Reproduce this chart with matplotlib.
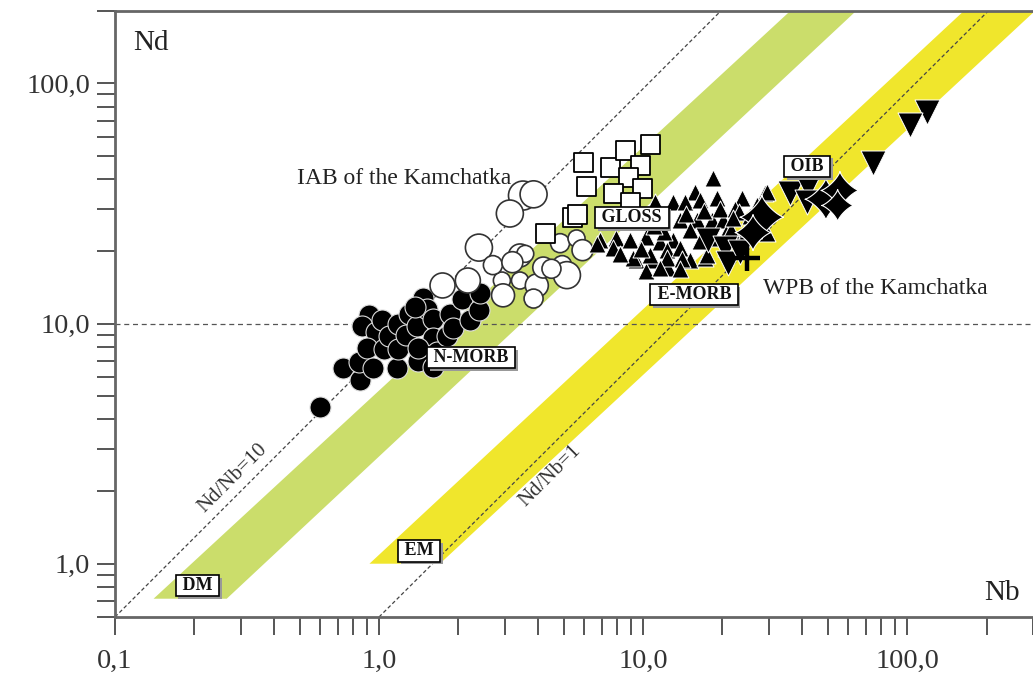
import numpy as np
import matplotlib.pyplot as plt
import matplotlib.patheffects as pe
from matplotlib.path import Path
from matplotlib.ticker import FixedLocator, FixedFormatter, LogLocator, NullFormatter

plt.rcParams['font.family'] = ['Liberation Serif', 'DejaVu Serif']

# Axis ranges and tick labels
x_lim = (0.1, 300)
y_lim = (0.6, 200)
x_major = [0.1, 1, 10, 100]
x_major_labels = ['0,1', '1,0', '10,0', '100,0']
y_major = [1, 10, 100]
y_major_labels = ['1,0', '10,0', '100,0']

# Reference lines Nd/Nb=10 and Nd/Nb=1
ratio10_nb = [0.1, 19.7]
ratio10_nd = [0.6, 200]
ratio1_nb = [1.0, 203]
ratio1_nd = [0.6, 200]
nd_level = 10

# DM (green) and EM (yellow) bands, polygon corners
dm_band_nb = [0.14, 0.265, 64.1, 36.1]
dm_band_nd = [0.715, 0.715, 200, 200]
em_band_nb = [0.92, 1.70, 305, 164]
em_band_nd = [1.0, 1.0, 200, 200]

# N-MORB-like samples (filled circles)
nmorb_nb = [0.60, 0.73, 0.85, 0.84, 0.92, 0.86, 0.97, 0.90, 1.04, 0.95, 1.03, 1.09,
            1.18, 1.17, 1.18, 1.26, 1.30, 1.39, 1.47, 1.52, 1.40, 1.60, 1.60, 1.60,
            1.66, 1.81, 1.86, 1.91, 2.06, 2.21, 2.39, 2.41, 1.40, 1.37]
nmorb_nd = [4.5, 6.5, 5.8, 6.9, 10.9, 9.8, 9.2, 7.9, 7.8, 6.5, 10.3, 8.9,
            10.0, 6.5, 7.8, 9.0, 11.0, 9.8, 12.8, 11.5, 7.0, 10.4, 8.7, 6.6,
            7.6, 8.9, 11.0, 9.6, 12.7, 10.3, 11.4, 13.4, 7.9, 11.7]

# IAB of the Kamchatka (open circles) and their drawn diameters in px
iab_nb = [3.51, 3.85, 3.13, 2.39, 1.74, 2.17, 2.92, 2.95, 3.42, 3.42, 3.58, 3.96,
          4.19, 3.85, 4.94, 4.85, 5.15, 5.6, 5.9, 2.70, 4.5, 3.2]
iab_nd = [34.1, 34.5, 28.7, 20.7, 14.4, 15.1, 15.1, 13.1, 15.1, 19.2, 19.5, 14.4,
          17.1, 12.7, 17.5, 21.6, 15.9, 22.6, 20.2, 17.5, 16.9, 18.0]
iab_diam = [29, 27, 27, 27, 25, 25, 17, 23, 17, 23, 17, 23,
            21, 19, 19, 19, 27, 17, 21, 19, 19, 21]

# GLOSS (open squares)
gloss_nb = [5.93, 6.1, 7.5, 8.55, 10.6, 9.75, 8.75, 7.7, 9.9, 8.9, 5.38, 5.6, 4.26]
gloss_nd = [46.9, 37.2, 44.7, 52.6, 55.7, 45.5, 40.6, 34.8, 36.5, 31.9, 27.7, 28.5, 23.9]

# WPB of the Kamchatka (filled triangles)
wpb_nb = [18.4, 15.7, 13.0, 14.4, 16.4, 19.0, 23.7, 29.0, 11.1, 13.8, 16.0, 18.2,
          20.1, 15.1, 20.6, 23.3, 6.87, 7.9, 8.9, 10.3, 11.6, 13.0, 9.4, 10.8,
          12.3, 13.8, 15.1, 10.3, 12.4, 17.2, 20.6, 24.8, 29.4, 9.17, 10.6, 12.3,
          14.1, 17.5, 19.6, 22.3, 23.0, 29.5, 6.7, 7.7, 11.6, 13.8,
          12.0, 14.5, 17.0, 21.5, 25.5, 27.0, 9.8, 8.2, 16.5, 18.8, 22.0, 11.0]
wpb_nd = [40.2, 35.2, 31.9, 31.9, 32.6, 33.3, 33.4, 34.9, 31.9, 26.9, 26.9, 26.9,
          26.9, 24.4, 23.7, 22.6, 22.2, 22.6, 22.2, 22.9, 21.8, 22.2, 18.3, 18.3,
          20.2, 20.7, 18.3, 16.6, 17.1, 18.8, 20.7, 25.1, 23.7, 18.8, 19.2, 18.8,
          18.6, 19.2, 30.1, 30.1, 29.0, 35.2, 21.5, 20.7, 17.1, 16.9,
          24.0, 28.5, 29.5, 24.5, 28.0, 31.0, 20.5, 19.5, 22.0, 22.8, 27.5, 25.5]

# OIB (down triangles)
oib_nb = [119, 103, 74.3, 36.1, 42.2, 17.6, 20.5, 21.0, 23.3, 41.7]
oib_nd = [75.7, 66.8, 46.4, 34.8, 36.9, 22.2, 20.7, 17.8, 19.8, 31.9]

# Four-pointed stars
star_nb = [28.2, 26.1, 49.3, 55.7, 54.6]
star_nd = [27.7, 23.9, 32.9, 35.8, 31.0]
star_diam = [44, 36, 42, 38, 32]

# Cross
cross_nb = [24.8]
cross_nd = [18.7]

# concave four-pointed star marker
t = np.linspace(0, 2 * np.pi, 161)
p = 2.6
star_path = Path(np.column_stack([np.sign(np.cos(t)) * np.abs(np.cos(t)) ** p,
                                  np.sign(np.sin(t)) * np.abs(np.sin(t)) ** p]))

fig = plt.figure(figsize=(10.33, 6.8), dpi=100)
ax = fig.add_axes([115 / 1033, 63 / 680, 918 / 1033, 606 / 680])
ax.set_xscale('log')
ax.set_yscale('log')
ax.set_xlim(*x_lim)
ax.set_ylim(*y_lim)

# bands
ax.fill(dm_band_nb, dm_band_nd, color='#cbdd6b', lw=0, zorder=1)
ax.fill(em_band_nb, em_band_nd, color='#f0e62c', lw=0, zorder=1)

# reference lines
ax.plot(ratio10_nb, ratio10_nd, ls=(0, (3, 2)), color='#444444', lw=0.9, zorder=2)
ax.plot(ratio1_nb, ratio1_nd, ls=(0, (3, 2)), color='#444444', lw=0.9, zorder=2)
ax.axhline(nd_level, ls=(0, (4, 3)), color='#555555', lw=0.9, zorder=2)

# samples
ax.scatter(nmorb_nb, nmorb_nd, s=(21 * 0.72) ** 2, c='black',
           edgecolors='#dddddd', linewidths=0.8, zorder=3)
ax.scatter(iab_nb, iab_nd, s=[(d * 0.72) ** 2 for d in iab_diam], facecolors='white',
           edgecolors='#333333', linewidths=1.2, zorder=4)
ax.scatter(gloss_nb, gloss_nd, s=(19 * 0.72) ** 2, marker='s', facecolors='white',
           edgecolors='black', linewidths=1.3, zorder=5)
ax.scatter(wpb_nb, wpb_nd, s=(17 * 0.72) ** 2, marker='^', c='black',
           edgecolors='white', linewidths=0.7, zorder=6)
ax.scatter(oib_nb, oib_nd, s=(25 * 0.72) ** 2, marker='v', c='black',
           edgecolors='white', linewidths=0.7, zorder=7)
ax.scatter(star_nb, star_nd, s=[(d * 0.72) ** 2 for d in star_diam], marker=star_path,
           c='black', edgecolors='white', linewidths=0.8, zorder=8)
ax.scatter(cross_nb, cross_nd, s=(25 * 0.72) ** 2, marker='+', c='black',
           linewidths=3.2, zorder=8)

# spines and ticks
for side in ['left', 'bottom', 'top']:
    ax.spines[side].set_color('#666666')
    ax.spines[side].set_linewidth(2)
ax.spines['right'].set_visible(False)

ax.xaxis.set_major_locator(FixedLocator(x_major))
ax.xaxis.set_major_formatter(FixedFormatter(x_major_labels))
ax.yaxis.set_major_locator(FixedLocator(y_major))
ax.yaxis.set_major_formatter(FixedFormatter(y_major_labels))
ax.xaxis.set_minor_locator(LogLocator(base=10, subs=range(2, 10), numticks=30))
ax.yaxis.set_minor_locator(LogLocator(base=10, subs=range(2, 10), numticks=30))
ax.xaxis.set_minor_formatter(NullFormatter())
ax.yaxis.set_minor_formatter(NullFormatter())
ax.tick_params(which='both', direction='out', length=13, width=1.4, color='#555555',
               labelsize=20.5, labelcolor='#333333')
ax.tick_params(axis='x', pad=10)
ax.tick_params(axis='y', pad=5)

# axis names
ax.text(0.02, 0.947, 'Nd', transform=ax.transAxes, fontsize=21, color='#222222',
        ha='left', va='center')
ax.text(0.986, 0.04, 'Nb', transform=ax.transAxes, fontsize=21, color='#222222',
        ha='right', va='center')

# group captions
ax.text(0.489, 40.2, 'IAB of the Kamchatka', fontsize=17, color='#222222',
        ha='left', va='center', zorder=9)
ax.text(28.5, 14.0, 'WPB of the Kamchatka', fontsize=17, color='#222222',
        ha='left', va='center', zorder=9)
ax.text(0.28, 2.26, 'Nd/Nb=10', rotation=45, fontsize=15, color='#333333',
        ha='center', va='center', zorder=9)
ax.text(4.45, 2.33, 'Nd/Nb=1', rotation=45, fontsize=15, color='#333333',
        ha='center', va='center', zorder=9)

# boxed reservoir labels
boxed = [('DM', 0.205, 0.81), ('EM', 1.42, 1.13), ('N-MORB', 2.23, 7.21),
         ('GLOSS', 9.08, 27.7), ('E-MORB', 15.6, 13.2), ('OIB', 41.8, 45.1)]
for name, bx, by in boxed:
    txt = ax.text(bx, by, ' ' + name + ' ', fontsize=13, fontweight='bold', color='#111111',
                  ha='center', va='center', zorder=10,
                  bbox=dict(boxstyle='square,pad=0.12', fc='white', ec='black', lw=1.2))
    txt.get_bbox_patch().set_path_effects([
        pe.SimplePatchShadow(offset=(2, -2), shadow_rgbFace='#999999', alpha=1.0),
        pe.Normal()])

fig.savefig('out.png', dpi=100)
